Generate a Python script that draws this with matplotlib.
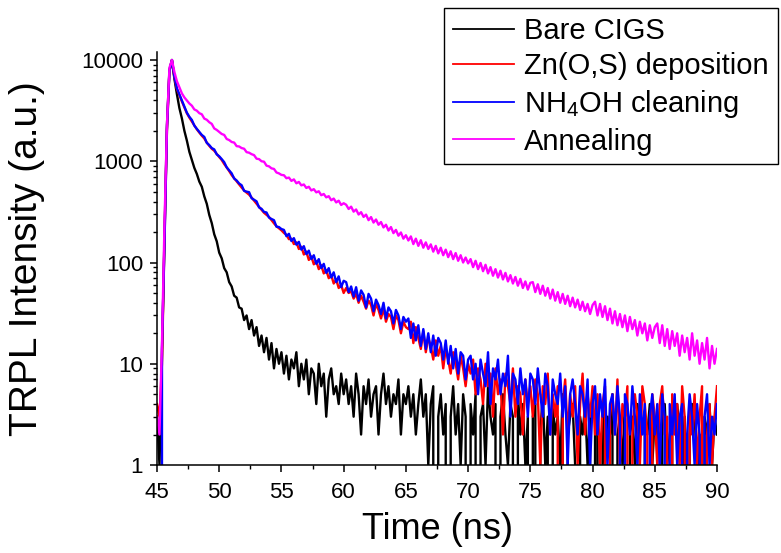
import numpy as np
import matplotlib
matplotlib.use("Agg")
import matplotlib.pyplot as plt
from matplotlib.ticker import MultipleLocator, LogLocator, NullFormatter

plt.rcParams['font.family'] = ['Liberation Sans', 'DejaVu Sans']
plt.rcParams['mathtext.fontset'] = 'custom'
plt.rcParams['mathtext.rm'] = 'Liberation Sans'
plt.rcParams['mathtext.default'] = 'regular'

# ---- data ----
TIME_START = 45.0
TIME_STEP = 0.2
N_POINTS = 226
time_ns = np.round(TIME_START + TIME_STEP * np.arange(N_POINTS), 1)

bare_cigs = [
    3, 1, 12, 180, 2300, 8000, 10000,
    6500, 4600, 3350, 2650, 2000, 1600, 1240, 1030, 860, 750, 630, 560, 450, 380, 295, 245,
    190, 162, 125, 110, 88, 80, 64, 58, 47, 45, 36, 35, 27, 30, 22, 27, 19, 23, 15, 19,
    13, 18, 11, 16, 9, 14, 10, 13,
    8, 12, 7, 11, 9, 13, 6, 10, 7, 11, 5, 9, 8, 4, 10, 6, 8, 3, 7, 9, 5, 6, 4, 8, 5,
    7, 4, 6, 3, 8, 5, 2, 6, 4, 7, 3, 5, 6, 2, 5, 8, 4, 6, 3, 5, 4, 7, 2, 5, 4,
    6, 3, 5, 2, 4, 7, 3, 5, 1, 4, 6, 0, 3, 5, 2, 4, 0, 3, 6, 2, 4, 1, 5, 3, 0,
    4, 2, 5, 0, 3, 4, 1, 6, 3, 2, 4, 0, 3, 5, 2, 1, 4, 3, 0, 5, 2, 4, 1, 3, 0,
    3, 4, 0, 2, 5, 1, 3, 0, 4, 2, 3, 1, 5, 0, 2, 3, 4, 1, 0, 3, 2, 4, 1, 3, 0,
    3, 2, 0, 4, 1, 3, 2, 5, 0, 2, 3, 1, 4, 0, 2, 3, 1, 4, 2, 0, 3, 2, 4, 1, 3,
    2, 0, 3, 4, 1, 2, 3, 0, 4, 2, 1, 3, 0, 2, 4, 3, 1, 2, 0, 3, 2, 4, 1, 3, 2,
]

zn_os_deposition = [
    4, 3, 10, 160, 2000, 7700, 10000,
    6700, 5150, 4500, 3900, 3420, 2980, 2700, 2470, 2250, 2070, 1920, 1790, 1680, 1530,
    1420, 1330, 1270, 1180, 1100, 1030, 940, 870, 800, 730, 680, 635, 590, 550, 515, 490,
    468, 438, 408, 380, 355, 332, 310, 296, 282, 262, 244, 228, 218, 208,
    196, 188, 170, 172, 152, 158, 136, 143, 120, 128, 106, 115, 96, 103, 86, 94, 78, 84,
    70, 75, 62, 68, 56, 60, 50,
    56, 50, 52, 44, 49, 40, 47, 41, 35, 42, 38, 30, 39, 34, 28, 35, 26, 31, 29, 22, 30, 27,
    20, 26, 23,
    22, 26, 16, 23, 18, 14, 21, 13, 18, 15, 11, 17, 12, 15, 9, 14, 11, 8, 13, 10, 7, 12, 9, 6, 10,
    8, 11, 5, 9, 7, 4, 10, 6, 8, 3, 9, 5, 7, 2, 8, 6, 4, 9, 3, 6, 5, 2, 7, 4, 6,
    3, 7, 5, 1, 6, 4, 8, 2, 5, 3, 6, 0, 4, 7, 2, 5, 3, 6, 1, 4, 8, 2, 5, 3, 6,
    2, 5, 1, 4, 6, 0, 3, 5, 2, 7, 1, 4, 3, 6, 0, 2, 5, 3, 1, 6, 4, 2, 0, 5, 3,
    1, 4, 6, 2, 3, 0, 5, 2, 4, 1, 6, 3, 0, 4, 2, 5, 1, 3, 6, 0, 2, 4, 1, 3, 6,
]

nh4oh_cleaning = [
    0, 0, 14, 150, 2100, 7800, 10000,
    6800, 5250, 4570, 3980, 3470, 3020, 2750, 2560, 2250, 2090, 1950, 1820, 1740, 1520,
    1445, 1350, 1310, 1170, 1120, 1050, 980, 870, 813, 760, 675, 646, 603, 580, 510, 501,
    495, 432, 417, 402, 350, 339, 316, 312, 278, 269, 262, 226, 224, 214,
    210, 182, 192, 163, 174, 150, 160, 134, 145, 121, 131, 108, 118, 97, 108, 88, 97, 79,
    88, 71, 80, 64, 73, 57, 66,
    64, 51, 58, 46, 57, 42, 53, 48, 36, 49, 44, 33, 43, 38, 31, 40, 28, 36, 33, 25, 34, 30,
    22, 29, 26,
    28, 18, 25, 17, 24, 15, 22, 14, 20, 13, 19, 12, 18, 16, 11, 17, 10, 15, 9, 14, 8, 13, 12, 7, 11,
    12, 7, 10, 5, 11, 8, 6, 13, 4, 9, 7, 11, 5, 8, 6, 12, 3, 8, 7, 4, 9, 5, 7, 3, 8,
    7, 4, 9, 5, 3, 8, 6, 2, 7, 5, 4, 8, 3, 6, 1, 5, 7, 4, 2, 6, 5, 3, 7, 1, 4,
    6, 2, 5, 3, 7, 1, 4, 5, 2, 6, 3, 0, 5, 4, 2, 6, 3, 1, 5, 2, 4, 0, 3, 5, 2,
    4, 1, 5, 3, 0, 4, 2, 5, 1, 3, 4, 0, 2, 5, 3, 1, 4, 2, 0, 3, 5, 1, 3, 2, 4,
]

annealing = [
    3, 2, 16, 235, 2300, 8400, 10000,
    7590, 6170, 5370, 4680, 4270, 3980, 3720, 3540, 3250, 3160, 2985, 2910, 2640, 2570,
    2430, 2340, 2110, 2040, 1950, 1860, 1820, 1660, 1620, 1550, 1530, 1410, 1400, 1350,
    1330, 1230, 1215, 1175, 1150, 1060, 1050, 1000, 990, 905, 891, 851, 840, 775, 759, 733,
    728, 680, 690, 640, 662, 606, 625, 578, 590, 545, 560, 515, 530, 493, 505, 462, 475,
    440, 452, 412, 428, 392, 408, 370, 385,
    372, 338, 356, 318, 334, 298, 314, 282, 297, 262, 281, 248, 266, 236, 251, 222, 236,
    207, 224, 195, 210, 184, 198, 172, 186,
    165, 181, 152, 172, 146, 166, 140, 158, 136, 151, 128, 146, 123, 140, 118, 134, 113,
    129, 108, 124, 104, 118, 100, 112, 98,
    108, 90, 104, 86, 99, 82, 95, 78, 90, 74, 86, 71, 83, 68, 79, 65, 75, 62, 72, 59, 69,
    56, 65, 54, 63,
    64, 51, 61, 49, 59, 47, 56, 44, 54, 42, 51, 40, 49, 39, 47, 37, 45, 36, 43, 34, 41, 33,
    39, 31, 38,
    41, 30, 39, 29, 37, 27, 35, 25, 33, 24, 31, 23, 30, 21, 29, 22, 27, 19, 26, 20, 25, 17,
    24, 18, 23,
    25, 16, 24, 15, 22, 14, 21, 15, 20, 12, 19, 13, 18, 11, 20, 12, 17, 10, 16, 11, 18, 9,
    15, 10, 14,
]

series_labels = ['Bare CIGS', 'Zn(O,S) deposition', r'NH$_4$OH cleaning', 'Annealing']
series_values = [bare_cigs, zn_os_deposition, nh4oh_cleaning, annealing]
series_colors = ['#000000', '#FF0000', '#0000FF', '#FF00FF']

x_ticks = [45, 50, 55, 60, 65, 70, 75, 80, 85, 90]
y_ticks = [1, 10, 100, 1000, 10000]
y_tick_labels = ['1', '10', '100', '1000', '10000']

# ---- figure ----
W, H = 781, 553
fig = plt.figure(figsize=(W / 100, H / 100), dpi=100)
ax = fig.add_axes([157 / W, (H - 465) / H, 560 / W, 413 / H])

for vals, col, lab in zip(series_values, series_colors, series_labels):
    ax.plot(time_ns, vals, color=col, lw=1.7, label=lab)

ax.set_yscale('log')
ax.set_xlim(45, 90)
ax.set_ylim(1, 12000)
ax.set_xticks(x_ticks)
ax.set_xticklabels([str(t) for t in x_ticks])
ax.xaxis.set_minor_locator(MultipleLocator(2.5))
ax.set_yticks(y_ticks)
ax.set_yticklabels(y_tick_labels)
ax.yaxis.set_minor_locator(LogLocator(base=10, subs=np.arange(2, 10)))
ax.yaxis.set_minor_formatter(NullFormatter())

for s in ['top', 'right']:
    ax.spines[s].set_visible(False)
for s in ['left', 'bottom']:
    ax.spines[s].set_linewidth(1.1)

ax.tick_params(which='major', direction='out', length=5, width=1.1, labelsize=16)
ax.tick_params(which='minor', direction='out', length=3, width=1.0)
ax.tick_params(axis='x', which='major', pad=7)
ax.tick_params(axis='y', which='major', pad=5)

ax.set_xlabel('Time (ns)', fontsize=26)
ax.set_ylabel('TRPL Intensity (a.u.)', fontsize=28)
ax.xaxis.set_label_coords(0.5, -0.115)
ax.yaxis.set_label_coords(-0.2, 0.5)

leg = fig.legend(loc='upper left', bbox_to_anchor=(444 / W, (H - 8) / H),
                 fontsize=21, frameon=True, fancybox=False, edgecolor='black',
                 framealpha=1, handlelength=2.1, handletextpad=0.35,
                 borderpad=0.3, labelspacing=0.26, borderaxespad=0)
leg.get_frame().set_linewidth(1.0)
for line in leg.get_lines():
    line.set_linewidth(1.3)

fig.savefig('out.png', dpi=100)
